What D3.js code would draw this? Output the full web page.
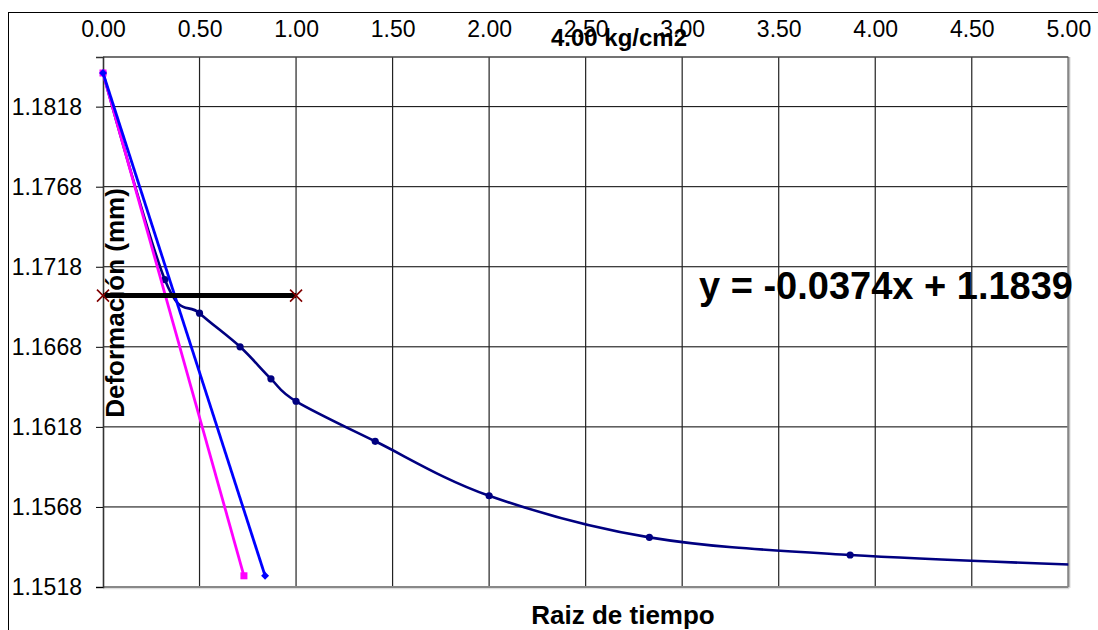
<!DOCTYPE html>
<html>
<head>
<meta charset="utf-8">
<script src="https://cdn.jsdelivr.net/npm/d3@7"></script>
<style>
  html, body { margin: 0; padding: 0; background: #fff; }
  svg { display: block; font-family: "Liberation Sans", Arial, sans-serif; }
</style>
</head>
<body>
<svg id="chart" width="1098" height="630"></svg>
<script>
// Square root of elapsed time and measured dial deformation (mm)
const sqrtTime  = [0, 0.32, 0.50, 0.71, 0.87, 1.00, 1.41, 2.00, 2.83, 3.87, 5.48];
const deform    = [1.1839, 1.1710, 1.1689, 1.1668, 1.1648, 1.1634, 1.1609, 1.1575, 1.1549, 1.1538, 1.1530];

// Initial tangent fitted to the early readings: y = slope * x + intercept
const slope     = -0.0374;
const intercept = 1.1839;
const tangentEndY = 1.1525;

// Tangent with abscissas increased by 15 %
const correctedX = [0, 0.73];
const correctedY = [1.1839, 1.1525];

// Horizontal reference segment
const levelX = [0, 1.00];
const levelY = [1.1700, 1.1700];

// Axis ticks
const xTicks = [0, 0.5, 1, 1.5, 2, 2.5, 3, 3.5, 4, 4.5, 5];
const yTicks = [1.1518, 1.1568, 1.1618, 1.1668, 1.1718, 1.1768, 1.1818];

const title  = "4.00 kg/cm2";
const xTitle = "Raiz de tiempo";
const yTitle = "Deformación (mm)";

const svg = d3.select("#chart");
const plot = { left: 103, right: 1068.3, top: 57, bottom: 587 };

const x = d3.scaleLinear().domain([0, 5]).range([plot.left, plot.right]);
const y = d3.scaleLinear().domain([1.1518, 1.1849]).range([plot.bottom, plot.top]);

// Outer chart frame
svg.append("rect")
  .attr("x", 8.5).attr("y", 12.5)
  .attr("width", 1200).attr("height", 700)
  .attr("fill", "none").attr("stroke", "#000").attr("stroke-width", 1);

// Gridlines
const grid = svg.append("g");
grid.selectAll("line.h").data(yTicks).join("line")
  .attr("x1", plot.left).attr("x2", plot.right)
  .attr("y1", d => y(d)).attr("y2", d => y(d))
  .attr("stroke", "#000").attr("stroke-width", 1);
grid.selectAll("line.v").data(xTicks.slice(1, -1)).join("line")
  .attr("x1", d => x(d)).attr("x2", d => x(d))
  .attr("y1", plot.top).attr("y2", plot.bottom)
  .attr("stroke", "#222").attr("stroke-width", 1.2);

// Plot area border
svg.append("line").attr("x1", plot.left).attr("x2", plot.right + 1)
  .attr("y1", plot.bottom + 1.5).attr("y2", plot.bottom + 1.5)
  .attr("stroke", "#ddd").attr("stroke-width", 1.5);
svg.append("line").attr("x1", plot.right + 1.5).attr("x2", plot.right + 1.5)
  .attr("y1", plot.top).attr("y2", plot.bottom + 1)
  .attr("stroke", "#ddd").attr("stroke-width", 1.5);
svg.append("line").attr("x1", plot.left).attr("x2", plot.right)
  .attr("y1", plot.bottom).attr("y2", plot.bottom)
  .attr("stroke", "#888").attr("stroke-width", 2.2);
svg.append("line").attr("x1", plot.right).attr("x2", plot.right)
  .attr("y1", plot.top).attr("y2", plot.bottom)
  .attr("stroke", "#888").attr("stroke-width", 2.2);
svg.append("line").attr("x1", plot.left).attr("x2", plot.right)
  .attr("y1", plot.top).attr("y2", plot.top)
  .attr("stroke", "#444").attr("stroke-width", 1.5);

// Y axis (left)
const yAxis = d3.axisLeft(y).tickValues(yTicks).tickFormat(d3.format(".4f"))
  .tickSize(7).tickPadding(14);
const gy = svg.append("g").attr("transform", `translate(${plot.left},0)`).call(yAxis);
gy.select(".domain").attr("stroke", "#333").attr("stroke-width", 1.6);
gy.selectAll(".tick line").attr("stroke", "#000");
gy.selectAll(".tick text").attr("font-size", 23).attr("fill", "#000")
  .attr("font-family", "Liberation Sans, Arial, sans-serif");

// X axis labels along the top
const xAxis = d3.axisTop(x).tickValues(xTicks).tickFormat(d3.format(".2f"))
  .tickSize(0).tickPadding(20);
const gx = svg.append("g").attr("transform", `translate(0,${plot.top})`).call(xAxis);
gx.select(".domain").remove();
gx.selectAll(".tick text").attr("font-size", 23).attr("fill", "#000")
  .attr("font-family", "Liberation Sans, Arial, sans-serif");

// Clip region for the data
svg.append("clipPath").attr("id", "plotClip").append("rect")
  .attr("x", plot.left).attr("y", plot.top - 10)
  .attr("width", plot.right - plot.left).attr("height", plot.bottom - plot.top + 10);

const data = sqrtTime.map((t, i) => ({ x: t, y: deform[i] }));
const marks = svg.append("g").attr("clip-path", "url(#plotClip)");

// Consolidation curve (smoothed, uniform cardinal spline)
marks.append("path")
  .datum(data)
  .attr("fill", "none").attr("stroke", "#000080").attr("stroke-width", 2.6)
  .attr("d", d3.line().x(d => x(d.x)).y(d => y(d.y)).curve(d3.curveCardinal.tension(0)));
marks.selectAll("circle.pt").data(data).join("circle")
  .attr("cx", d => x(d.x)).attr("cy", d => y(d.y)).attr("r", 3.6)
  .attr("fill", "#000080");

// Corrected tangent (magenta)
const corrected = correctedX.map((v, i) => ({ x: v, y: correctedY[i] }));
svg.append("path").datum(corrected)
  .attr("fill", "none").attr("stroke", "#FF00FF").attr("stroke-width", 2.8)
  .attr("d", d3.line().x(d => x(d.x)).y(d => y(d.y)));
svg.selectAll("rect.sq").data(corrected).join("rect")
  .attr("x", d => x(d.x) - 3.5).attr("y", d => y(d.y) - 3.5)
  .attr("width", 7).attr("height", 7).attr("fill", "#FF00FF");

// Initial tangent (blue) from the fitted equation
const tangent = [intercept, tangentEndY].map(v => ({ x: (v - intercept) / slope, y: v }));
svg.append("path").datum(tangent)
  .attr("fill", "none").attr("stroke", "#0000FF").attr("stroke-width", 2.8)
  .attr("d", d3.line().x(d => x(d.x)).y(d => y(d.y)));
svg.selectAll("path.dia").data(tangent).join("path")
  .attr("transform", d => `translate(${x(d.x)},${y(d.y)})`)
  .attr("d", d3.symbol(d3.symbolDiamond2, 40))
  .attr("fill", "#0000FF");

// Horizontal reference segment with end crosses
const level = levelX.map((v, i) => ({ x: v, y: levelY[i] }));
svg.append("path").datum(level)
  .attr("fill", "none").attr("stroke", "#000").attr("stroke-width", 5)
  .attr("d", d3.line().x(d => x(d.x)).y(d => y(d.y)));
svg.selectAll("path.cross").data(level).join("path")
  .attr("transform", d => `translate(${x(d.x)},${y(d.y)})`)
  .attr("d", "M-6,-6L6,6M-6,6L6,-6")
  .attr("stroke", "#800000").attr("stroke-width", 1.6).attr("fill", "none");

// Trendline equation
svg.append("text")
  .attr("x", 699).attr("y", 299)
  .attr("font-size", 38).attr("font-weight", "bold").attr("fill", "#000")
  .text(`y = ${slope.toFixed(4)}x + ${intercept.toFixed(4)}`);

// Titles
svg.append("text")
  .attr("x", 619).attr("y", 46).attr("text-anchor", "middle")
  .attr("font-size", 24).attr("font-weight", "bold").text(title);
svg.append("text")
  .attr("x", 623).attr("y", 624).attr("text-anchor", "middle")
  .attr("font-size", 26).attr("font-weight", "bold").text(xTitle);
svg.append("text")
  .attr("transform", "translate(124,303) rotate(-90)").attr("text-anchor", "middle")
  .attr("font-size", 26).attr("font-weight", "bold").text(yTitle);
</script>
</body>
</html>
